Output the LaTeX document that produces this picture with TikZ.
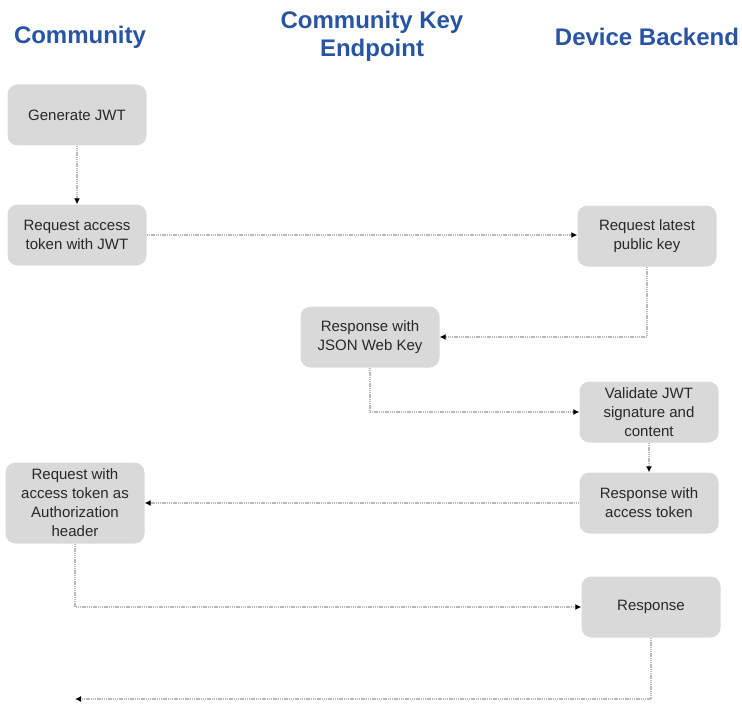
\documentclass[tikz,border=0pt]{standalone}
\usepackage{fontspec}
\setmainfont{Liberation Sans}
\usepackage{tikz}
\usetikzlibrary{arrows.meta, positioning}
\definecolor{flowblue}{RGB}{40,84,164}
\definecolor{flowgrey}{RGB}{217,217,217}
\definecolor{flowdots}{RGB}{185,185,185}
\definecolor{flowtext}{RGB}{40,40,40}
\tikzset{
  lane/.style={font=\fontsize{24}{28}\selectfont\bfseries, text=flowblue,
               align=center, inner sep=0pt},
  stepbox/.style={rectangle, rounded corners=10pt, fill=flowgrey,
                  minimum width=139pt, minimum height=61pt, inner sep=0pt,
                  align=center, text=flowtext, font=\fontsize{15}{19}\selectfont},
  flow/.style={-{Latex[length=6pt, width=6pt, color=black]}, draw=flowdots,
               line width=2pt, dash pattern=on 1.4pt off 0.8pt},
}
\begin{document}
\begin{tikzpicture}[x=1pt, y=-1pt]
  \useasboundingbox (0,0) rectangle (742,706);
  % lane titles
  \node[lane] (community) at (80,37) {Community};
  \node[lane] (keyend) at (372,36) {Community Key\\Endpoint};
  \node[lane] (backend) at (647,37) {Device Backend};
  % steps
  \node[stepbox] (genjwt) at (77,115) {Generate JWT};
  \node[stepbox] (reqtoken) at (77,235) {Request access\\token with JWT};
  \node[stepbox] (reqkey) at (647,236) {Request latest\\public key};
  \node[stepbox] (jwkresp) at (370,337) {Response with\\JSON Web Key};
  \node[stepbox] (validate) at (649,412) {Validate JWT\\signature and\\content};
  \node[stepbox] (tokresp) at (649,503) {Response with\\access token};
  \node[stepbox, minimum height=81pt] (authreq) at (75,503) {Request with\\access token as\\Authorization\\header};
  \node[stepbox] (resp) at (651,607) {Response};
  \coordinate (done) at (75,699);
  % flow
  \draw[flow] (genjwt) -- (reqtoken);
  \draw[flow] (reqtoken.east) -- (reqtoken.east -| reqkey.west);
  \draw[flow] (reqkey.south) |- (jwkresp.east);
  \draw[flow] (jwkresp.south) |- (validate.west);
  \draw[flow] (validate) -- (tokresp);
  \draw[flow] (tokresp) -- (authreq);
  \draw[flow] (authreq.south) |- (resp.west);
  \draw[flow] (resp.south) |- (done);
\end{tikzpicture}
\end{document}
